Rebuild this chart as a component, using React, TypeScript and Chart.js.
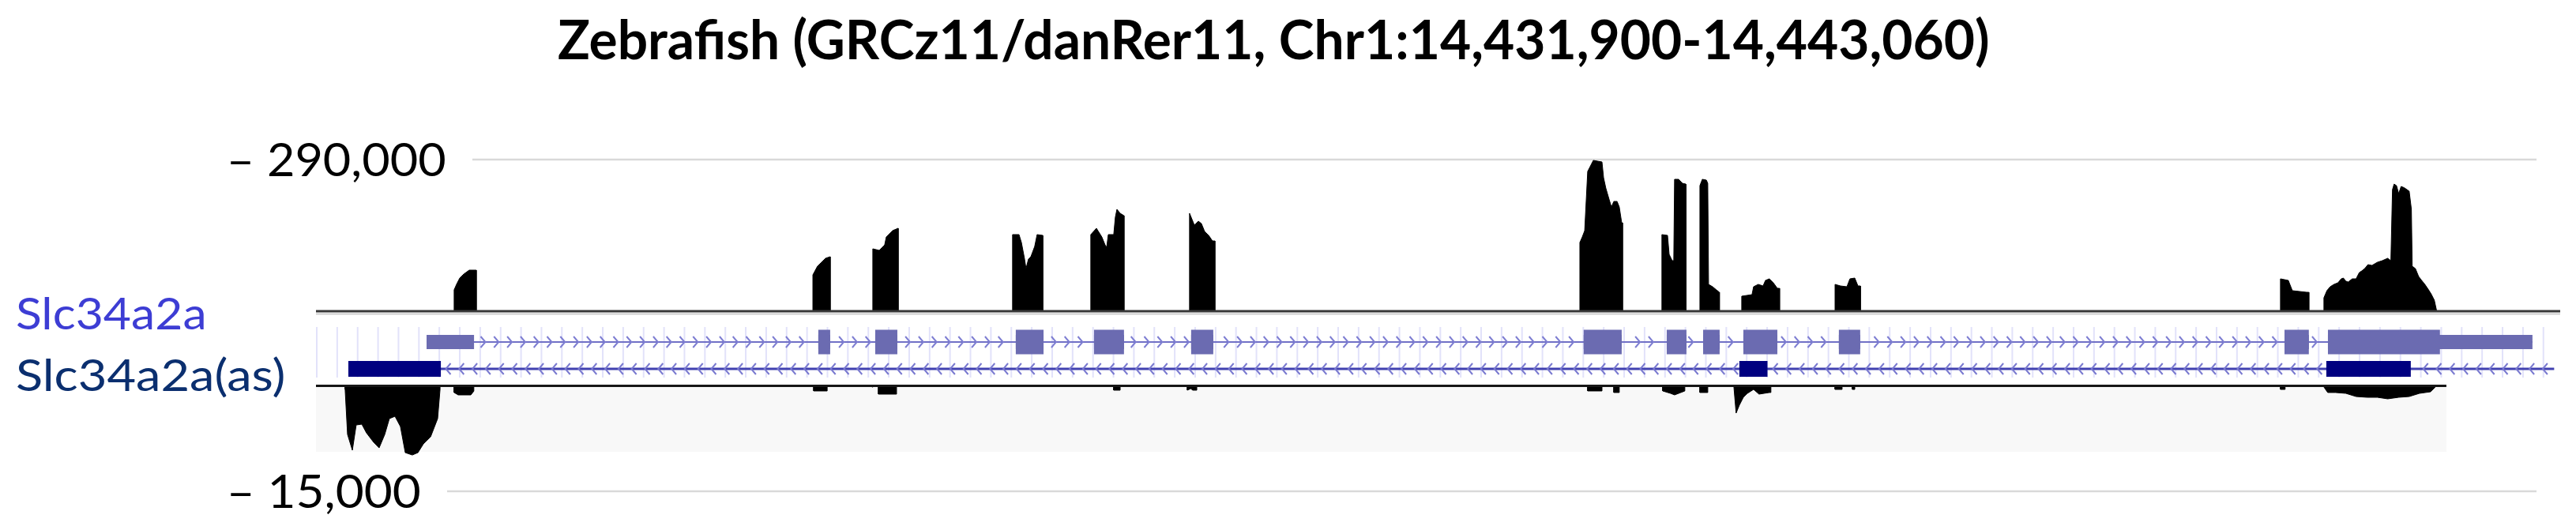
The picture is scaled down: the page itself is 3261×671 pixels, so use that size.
import React, { useEffect, useRef } from 'react';
import Chart from 'chart.js/auto';

// ---------------- DATA ----------------
const TITLE = 'Zebrafish (GRCz11/danRer11, Chr1:14,431,900-14,443,060)';
const REGION_START = 14431900;
const REGION_END = 14443060;
const TRACK_LABELS = ['Slc34a2a', 'Slc34a2a(as)'];
const UPPER_TICK = 290000;
const LOWER_TICK = 15000;
const TICK_LABELS = ['\u2013 290,000', '\u2013 15,000'];

// coverage, plus strand: [bp offset from REGION_START, read count]
const plusCoverage: [number, number][] = [
  [687, 0], [687, 40800], [699, 51300], [715, 63400], [735, 71000], [762, 78500], [797, 78500], [797, 0],
  [2471, 0], [2471, 69500], [2494, 86100], [2514, 93600], [2534, 101200], [2557, 104200], [2557, 0],
  [2769, 0], [2769, 119300], [2801, 116300], [2828, 126800], [2836, 141900], [2867, 154000], [2895, 158600], [2895, 0],
  [3464, 0], [3464, 146500], [3496, 146500], [3508, 131400], [3523, 101200], [3531, 81500], [3543, 99700], [3555, 104200], [3574, 123800], [3586, 146500], [3614, 145000], [3614, 0],
  [3853, 0], [3853, 146500], [3881, 158600], [3908, 141900], [3924, 126800], [3932, 122300], [3940, 146500], [3967, 146500], [3975, 179700], [3983, 194800], [3999, 187200], [4018, 182700], [4018, 0],
  [4344, 0], [4344, 187200], [4368, 164600], [4388, 172100], [4403, 167600], [4419, 152500], [4439, 145000], [4458, 134400], [4470, 134400], [4470, 0],
  [6285, 0], [6285, 131400], [6297, 141900], [6309, 154000], [6324, 267300], [6348, 285400], [6352, 288400], [6395, 285400], [6403, 255200], [6414, 235600], [6430, 214400], [6442, 199300], [6454, 209900], [6470, 209900], [6481, 199300], [6493, 169100], [6497, 169100], [6497, 0],
  [6693, 0], [6693, 146500], [6721, 145000], [6729, 108700], [6744, 96600], [6752, 96600], [6756, 252200], [6776, 252200], [6795, 244600], [6812, 243100], [6812, 0],
  [6882, 0], [6882, 240100], [6894, 252200], [6914, 250700], [6921, 244600], [6925, 51300], [6945, 46800], [6964, 40800], [6979, 36200], [6979, 0],
  [7090, 0], [7090, 28700], [7141, 31700], [7149, 46800], [7172, 51300], [7196, 48300], [7208, 58900], [7227, 61900], [7247, 54400], [7267, 43800], [7278, 43800], [7278, 0],
  [7554, 0], [7554, 51300], [7581, 48300], [7613, 46800], [7628, 61900], [7652, 63400], [7668, 48300], [7680, 48300], [7680, 0],
  [9769, 0], [9769, 61900], [9808, 58900], [9828, 39300], [9899, 36200], [9910, 36200], [9910, 0],
  [9985, 0], [9985, 25700], [10000, 39300], [10016, 46800], [10035, 51300], [10055, 54400], [10071, 61900], [10082, 63400], [10094, 57400], [10106, 55900],
  [10126, 61900], [10145, 61900], [10161, 74000], [10173, 77000], [10188, 81500], [10204, 89100], [10224, 87600], [10251, 93600], [10275, 96600], [10302, 101200],
  [10318, 96600], [10326, 232500], [10334, 243100], [10346, 240100], [10357, 225000], [10369, 238600], [10385, 236000], [10409, 229500], [10420, 194800], [10424, 86100],
  [10440, 81500], [10456, 66400], [10471, 58900], [10487, 51300], [10503, 42300], [10518, 33200], [10534, 21100], [10546, 0],
];

// coverage, minus strand: [bp offset, read count] (drawn downward)
const minusCoverage: [number, number][] = [
  [145, 0], [145, 560], [157, 6940], [181, 9180], [200, 5600], [228, 5490], [251, 6720], [287, 8060], [314, 8850], [342, 6940],
  [365, 4700], [393, 4370], [420, 5820], [444, 9520], [479, 9860], [507, 9520], [534, 8290], [570, 7280], [605, 4700], [617, 560], [617, 0],
  [687, 0], [687, 1000], [707, 1340], [770, 1340], [785, 800], [785, 0],
  [2475, 0], [2475, 780], [2542, 780], [2542, 0],
  [2765, 0], [2765, 220], [2770, 220], [2770, 0], [2797, 0], [2797, 1230], [2887, 1230], [2887, 0],
  [3967, 0], [3967, 670], [3999, 670], [3999, 0],
  [4333, 0], [4333, 670], [4350, 450], [4360, 670], [4380, 670], [4380, 0],
  [6324, 0], [6324, 780], [6395, 780], [6395, 0], [6454, 0], [6454, 1000], [6481, 1000], [6481, 0],
  [6697, 0], [6697, 780], [6736, 1120], [6756, 1340], [6787, 1000], [6807, 780], [6807, 0],
  [6882, 0], [6882, 1000], [6921, 1000], [6921, 0],
  [7051, 0], [7051, 220], [7062, 3920], [7078, 2800], [7098, 1680], [7118, 1120], [7149, 560], [7176, 1230], [7227, 1000], [7235, 1000], [7235, 0],
  [7554, 0], [7554, 560], [7589, 560], [7589, 0], [7640, 0], [7640, 560], [7652, 560], [7652, 0],
  [9769, 0], [9769, 560], [9792, 560], [9792, 0],
  [9985, 0], [9985, 220], [10004, 1000], [10043, 1000], [10094, 1120], [10145, 1570], [10200, 1680], [10251, 1680], [10302, 1900],
  [10357, 1680], [10409, 1570], [10460, 1120], [10515, 900], [10539, 220], [10539, 0],
];

// extent of the minus-strand track panel (bp offsets) and its shaded depth
const minusTrackExtent = [0, 10594];
const minusTrackShade = 9400;

// gene models (bp offsets)
const senseExons: [number, number][] = [
  [550, 786], [2498, 2557], [2781, 2891], [3480, 3618], [3869, 4018], [4352, 4462],
  [6304, 6493], [6717, 6815], [6898, 6980], [7098, 7267], [7573, 7679], [9789, 9910], [10005, 11022],
];
const senseCds = [2498, 10562];
const antisenseExons: [number, number][] = [[161, 621], [7078, 7218], [9997, 10417]];
const antisenseTx = [161, 11130];

// ---------------- LAYOUT / STYLE ----------------
const W = 3261;
const H = 671;
const PLOT = { left: 400, right: 3241, top: 202, bottom: 622 };
const UPPER_BASE_Y = 394;
const LOWER_BASE_Y = 488;
const SENSE_Y = 433;
const ANTI_Y = 467;
const SENSE_THICK_H = 31;
const SENSE_THIN_H = 18;
const ANTI_THICK_H = 20;
const GUIDE_TOP = 414;
const GUIDE_BOTTOM = 478;
const GUIDE_STEP = 25.86;
const CHEVRON_STEP = 16.8;

const yTopMin = -UPPER_TICK * (PLOT.bottom - UPPER_BASE_Y) / (UPPER_BASE_Y - PLOT.top);
const yLowMin = -LOWER_TICK * (LOWER_BASE_Y - PLOT.top) / (PLOT.bottom - LOWER_BASE_Y);

function fitText(ctx: CanvasRenderingContext2D, text: string, inkLeft: number, inkRight: number, baseline: number, font: string, color: string) {
  ctx.save();
  ctx.font = font;
  ctx.fillStyle = color;
  ctx.textAlign = 'left';
  ctx.textBaseline = 'alphabetic';
  const m = ctx.measureText(text);
  const inkW = m.actualBoundingBoxLeft + m.actualBoundingBoxRight;
  const s = (inkRight - inkLeft) / inkW;
  ctx.translate(inkLeft + m.actualBoundingBoxLeft * s, baseline);
  ctx.scale(s, 1);
  ctx.fillText(text, 0, 0);
  ctx.restore();
}

function hline(ctx: CanvasRenderingContext2D, x0: number, x1: number, y: number, color: string, w: number) {
  ctx.strokeStyle = color;
  ctx.lineWidth = w;
  ctx.beginPath();
  ctx.moveTo(x0, y);
  ctx.lineTo(x1, y);
  ctx.stroke();
}

const TICK_INK_LEFT = 292;
const TICK_INK_RIGHT = [563, 531];
const TICK_GRID_GAP = 35;

const trackPlugin = {
  id: 'genomeTrack',
  beforeDatasetsDraw(chart: any) {
    const { ctx, chartArea: ca, scales } = chart;
    ctx.save();
    const yT = scales.yTop.getPixelForValue(UPPER_TICK);
    const yL = scales.yLow.getPixelForValue(LOWER_TICK);
    hline(ctx, TICK_INK_RIGHT[0] + TICK_GRID_GAP, ca.right - 30, yT, '#d9d9d9', 2.5);
    hline(ctx, TICK_INK_RIGHT[1] + TICK_GRID_GAP, ca.right - 30, yL, '#d9d9d9', 2.5);
    ctx.restore();
  },
  afterDatasetsDraw(chart: any) {
    const { ctx, chartArea: ca, scales } = chart;
    const px = (off: number) => scales.x.getPixelForValue(REGION_START + off);
    ctx.save();
    // guidelines
    ctx.strokeStyle = '#e2e2fa';
    ctx.lineWidth = 2;
    for (let gx = ca.left + 1; gx < ca.right - 8; gx += GUIDE_STEP) {
      ctx.beginPath();
      ctx.moveTo(gx, GUIDE_TOP);
      ctx.lineTo(gx, GUIDE_BOTTOM);
      ctx.stroke();
    }
    // sense intron line
    const sStart = px(senseExons[0][0]);
    const sEnd = px(senseExons[senseExons.length - 1][1]);
    hline(ctx, sStart, sEnd, SENSE_Y, '#7070c6', 2.2);
    // sense chevrons
    ctx.strokeStyle = '#7e7ed2';
    ctx.lineWidth = 2;
    ctx.lineJoin = 'miter';
    const inExon = (cx: number, exons: [number, number][]) =>
      exons.some(([a, b]) => cx > px(a) - 5 && cx < px(b) + 5);
    for (let cx = ca.left + 10.4; cx < sEnd - 4; cx += CHEVRON_STEP) {
      if (cx < sStart || inExon(cx, senseExons)) continue;
      ctx.beginPath();
      ctx.moveTo(cx - 3.5, SENSE_Y - 7);
      ctx.lineTo(cx + 2.5, SENSE_Y);
      ctx.lineTo(cx - 3.5, SENSE_Y + 7);
      ctx.stroke();
    }
    // sense exons (thin UTR / thick CDS)
    ctx.fillStyle = '#6b6bb1';
    const cdsA = px(senseCds[0]);
    const cdsB = px(senseCds[1]);
    senseExons.forEach(([a, b]) => {
      const xa = px(a);
      const xb = px(b);
      ctx.fillRect(xa, SENSE_Y - SENSE_THIN_H / 2, xb - xa, SENSE_THIN_H);
      const ta = Math.max(xa, cdsA);
      const tb = Math.min(xb, cdsB);
      if (tb > ta) ctx.fillRect(ta, SENSE_Y - SENSE_THICK_H / 2, tb - ta, SENSE_THICK_H);
    });
    // antisense line
    const aStart = px(antisenseTx[0]);
    const aEnd = px(antisenseTx[1]);
    hline(ctx, aStart, aEnd, ANTI_Y, '#4141b0', 3);
    ctx.strokeStyle = '#7a7ad0';
    ctx.lineWidth = 2;
    for (let cx = ca.left + 15.8; cx < aEnd + 2; cx += CHEVRON_STEP) {
      if (cx < aStart || inExon(cx, antisenseExons)) continue;
      ctx.beginPath();
      ctx.moveTo(cx + 3.5, ANTI_Y - 7);
      ctx.lineTo(cx - 2.5, ANTI_Y);
      ctx.lineTo(cx + 3.5, ANTI_Y + 7);
      ctx.stroke();
    }
    ctx.fillStyle = '#000080';
    antisenseExons.forEach(([a, b]) => {
      const xa = px(a);
      const xb = px(b);
      ctx.fillRect(xa, ANTI_Y - ANTI_THICK_H / 2, xb - xa, ANTI_THICK_H);
    });
    // baselines
    const y0Top = scales.yTop.getPixelForValue(0);
    const y0Low = scales.yLow.getPixelForValue(0);
    hline(ctx, ca.left, ca.right, y0Top + 3.5, '#cfcfcf', 2);
    hline(ctx, ca.left, ca.right, y0Top, '#383838', 3);
    hline(ctx, ca.left, px(minusTrackExtent[1]), y0Low + 0.5, '#161616', 3);
    ctx.restore();
  },
  afterDraw(chart: any) {
    const { ctx, scales } = chart;
    fitText(ctx, TITLE, 707, 2517, 75, 'bold 68px Lato', '#000000');
    fitText(ctx, TRACK_LABELS[0], 21, 258, 417, '57px Lato', '#3d3dd4');
    fitText(ctx, TRACK_LABELS[1], 21, 359, 495, '57px Lato', '#0b2f6f');
    const yT = scales.yTop.getPixelForValue(UPPER_TICK);
    const yL = scales.yLow.getPixelForValue(LOWER_TICK);
    fitText(ctx, TICK_LABELS[0], TICK_INK_LEFT, TICK_INK_RIGHT[0], yT + 21, '58px Lato', '#000000');
    fitText(ctx, TICK_LABELS[1], TICK_INK_LEFT, TICK_INK_RIGHT[1], yL + 21, '58px Lato', '#000000');
  },
};

export default function App() {
  const ref = useRef<HTMLCanvasElement>(null);
  useEffect(() => {
    const toXY = (arr: [number, number][]) => arr.map(([o, v]) => ({ x: REGION_START + o, y: v }));
    const chart = new Chart(ref.current as HTMLCanvasElement, {
      type: 'line',
      data: {
        datasets: [
          {
            label: 'shade',
            data: [
              { x: REGION_START + minusTrackExtent[0], y: minusTrackShade },
              { x: REGION_START + minusTrackExtent[1], y: minusTrackShade },
            ],
            yAxisID: 'yLow',
            borderWidth: 0,
            backgroundColor: '#f8f8f8',
            fill: 'origin',
            pointRadius: 0,
            order: 5,
          },
          {
            label: 'plus',
            data: toXY(plusCoverage),
            yAxisID: 'yTop',
            borderColor: '#000000',
            borderWidth: 1,
            backgroundColor: '#000000',
            fill: 'origin',
            pointRadius: 0,
            tension: 0,
            order: 1,
          },
          {
            label: 'minus',
            data: toXY(minusCoverage),
            yAxisID: 'yLow',
            borderColor: '#000000',
            borderWidth: 1,
            backgroundColor: '#000000',
            fill: 'origin',
            pointRadius: 0,
            tension: 0,
            order: 1,
          },
        ],
      },
      options: {
        animation: false,
        responsive: true,
        maintainAspectRatio: false,
        events: [],
        layout: {
          padding: { left: PLOT.left, right: W - PLOT.right, top: PLOT.top, bottom: H - PLOT.bottom },
        },
        plugins: { legend: { display: false }, tooltip: { enabled: false }, title: { display: false } },
        scales: {
          x: { type: 'linear', min: REGION_START, max: REGION_END, display: false },
          yTop: { type: 'linear', min: yTopMin, max: UPPER_TICK, display: false },
          yLow: { type: 'linear', min: yLowMin, max: LOWER_TICK, reverse: true, display: false },
        },
      },
      plugins: [trackPlugin],
    } as any);
    const fonts = (document as any).fonts;
    if (fonts && fonts.load) {
      Promise.all([fonts.load('bold 68px Lato'), fonts.load('57px Lato')]).then(() => chart.draw());
    }
    return () => chart.destroy();
  }, []);
  return (
    <div style={{ position: 'fixed', left: 0, top: 0, width: W, height: H, background: '#ffffff' }}>
      <canvas ref={ref} />
    </div>
  );
}
